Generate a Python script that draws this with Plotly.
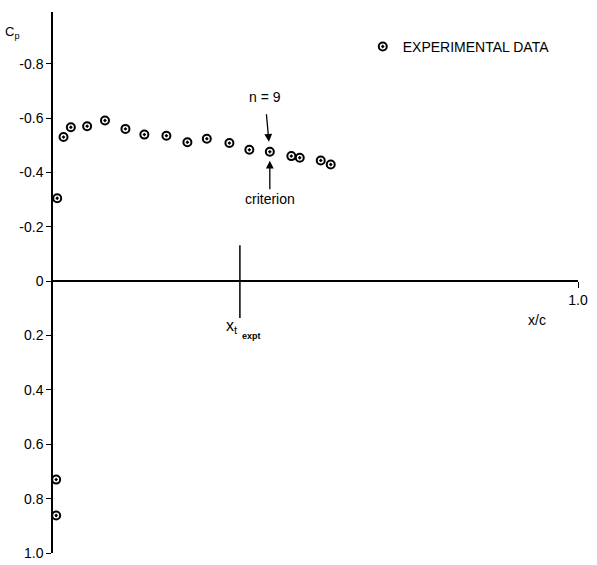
import plotly.graph_objects as go

# Data (x/c, Cp)
x_c = [0.008, 0.020, 0.034, 0.065, 0.099, 0.138, 0.174, 0.216, 0.256, 0.293,
       0.336, 0.374, 0.413, 0.454, 0.470, 0.510, 0.529, 0.006, 0.006]
cp = [-0.305, -0.530, -0.566, -0.570, -0.591, -0.560, -0.539, -0.535, -0.511, -0.524,
      -0.508, -0.483, -0.476, -0.460, -0.454, -0.444, -0.429, 0.730, 0.862]

y_ticks = [-0.8, -0.6, -0.4, -0.2, 0, 0.2, 0.4, 0.6, 0.8, 1.0]
y_ticktext = ["-0.8", "-0.6", "-0.4", "-0.2", "0", "0.2", "0.4", "0.6", "0.8", "1.0"]
x_ticks = [1.0]
x_ticktext = ["1.0"]

criterion_x = 0.413
criterion_cp = -0.476
x_t_expt = 0.356
x_t_line = [-0.132, 0.136]

Y_RANGE = [1.0, -0.99]
FONT = "Liberation Sans, Arial, sans-serif"

fig = go.Figure()
fig.add_trace(go.Scatter(
    x=x_c, y=cp, mode="markers", name="EXPERIMENTAL DATA",
    marker=dict(symbol="circle-open-dot", size=8, color="black",
                line=dict(color="black", width=2)),
))

zero_pos = (Y_RANGE[0] - 0) / (Y_RANGE[0] - Y_RANGE[1])

fig.update_layout(
    width=597, height=565,
    margin=dict(l=53, r=19, t=12, b=12, autoexpand=False),
    paper_bgcolor="white", plot_bgcolor="white",
    font=dict(family=FONT, size=14, color="black"),
    showlegend=True,
    legend=dict(x=0.59, y=0.965, xanchor="left", yanchor="top",
                bgcolor="rgba(0,0,0,0)", font=dict(size=14), itemwidth=30),
    xaxis=dict(range=[0, 1.0], anchor="free", position=zero_pos, automargin=False,
               showline=True, linecolor="black", linewidth=2,
               showgrid=False, zeroline=False,
               tickvals=x_ticks, ticktext=x_ticktext,
               ticks="outside", ticklen=6, tickwidth=1.2, tickcolor="black",
               tickfont=dict(size=14)),
    yaxis=dict(range=Y_RANGE, automargin=False,
               showline=True, linecolor="black", linewidth=1.5,
               showgrid=False, zeroline=False,
               tickvals=y_ticks, ticktext=y_ticktext,
               ticks="outside", ticklen=5, tickwidth=1.2, tickcolor="black",
               tickfont=dict(size=14)),
)

fig.add_shape(type="line", xref="x", yref="y",
              x0=x_t_expt, x1=x_t_expt, y0=x_t_line[0], y1=x_t_line[1],
              line=dict(color="black", width=1.5))

fig.add_annotation(x=criterion_x, y=criterion_cp, xref="x", yref="y",
                   text="n = 9", showarrow=True, arrowhead=2, arrowsize=1.2,
                   arrowwidth=1.3, arrowcolor="black", ax=-5, ay=-55,
                   standoff=10, startstandoff=8, font=dict(size=14))
fig.add_annotation(x=criterion_x, y=criterion_cp, xref="x", yref="y",
                   text="criterion", showarrow=True, arrowhead=2, arrowsize=1.2,
                   arrowwidth=1.3, arrowcolor="black", ax=0, ay=47,
                   standoff=9, startstandoff=0, font=dict(size=14))

fig.add_annotation(x=-0.095, y=0.963, xref="paper", yref="paper",
                   xanchor="left", yanchor="middle",
                   text="C<sub>p</sub>", showarrow=False, font=dict(size=13))
fig.add_annotation(x=0.942, y=zero_pos - 0.072, xref="paper", yref="paper",
                   text="x/c", showarrow=False, font=dict(size=14))
fig.add_annotation(x=x_t_expt, y=0.165, xref="x", yref="y", xanchor="right",
                   text="x<sub>t</sub>", showarrow=False, font=dict(size=16))
fig.add_annotation(x=x_t_expt, y=0.20, xref="x", yref="y", xanchor="left",
                   text="<b>expt</b>", showarrow=False, font=dict(size=9))

fig.write_html("out.html", config={"displayModeBar": False},
               post_script="document.body.style.margin='0';")
